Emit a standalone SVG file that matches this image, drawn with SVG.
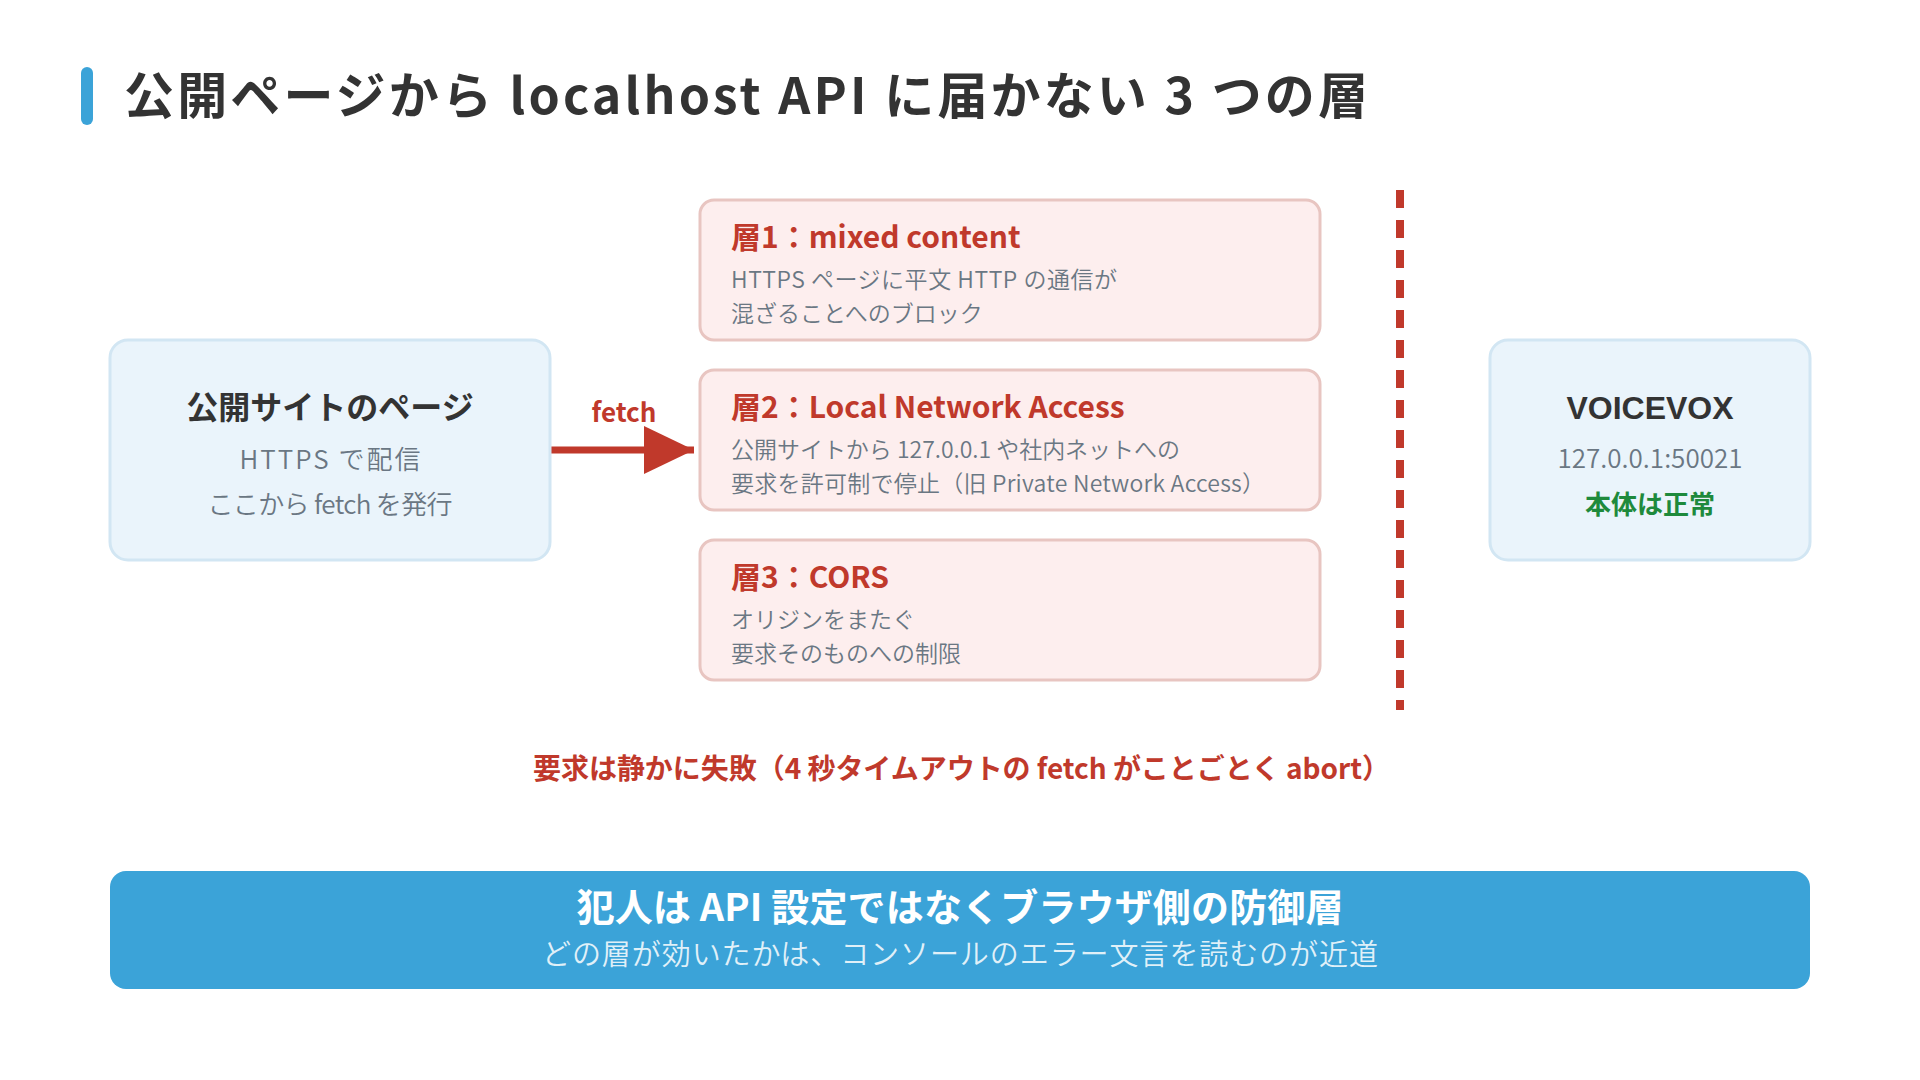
<svg xmlns="http://www.w3.org/2000/svg" width="1920" height="1080" viewBox="0 0 1920 1080">
<style>
  text { font-family: "Noto Sans CJK JP", "Noto Sans", sans-serif; }
  .title { font-size: 50px; font-weight: 700; fill: #333333; }
  .blue { fill: #eaf4fb; stroke: #d2e6f3; stroke-width: 3; }
  .pink { fill: #fdeeee; stroke: #e8c5c1; stroke-width: 3; }
  .nodeTitle { font-size: 32px; font-weight: 700; fill: #333333; text-anchor: middle; }
  .sub { font-size: 26px; font-weight: 350; fill: #6a7783; text-anchor: middle; }
  .layerTitle { font-size: 30px; font-weight: 700; fill: #c0392b; }
  .desc { font-size: 23px; font-weight: 350; fill: #6a7783; }
  .red { fill: #c0392b; }
</style>
<defs>
  <marker id="arrowHead" viewBox="0 0 50 48" refX="50" refY="24" markerWidth="50" markerHeight="48" markerUnits="userSpaceOnUse" orient="auto">
    <polygon points="0,0 50,24 0,48" fill="#c0392b"/>
  </marker>
</defs>
<rect width="1920" height="1080" fill="#ffffff"/>

<g id="title">
  <rect x="81" y="67" width="12" height="58" rx="6" fill="#3ba3d8"/>
  <text class="title" x="124" y="114" textLength="1244" lengthAdjust="spacing">公開ページから localhost API に届かない 3 つの層</text>
</g>

<g id="connectors">
  <line x1="550" y1="450" x2="694" y2="450" stroke="#c0392b" stroke-width="7" marker-end="url(#arrowHead)"/>
  <text x="624" y="422" font-size="26" font-weight="700" text-anchor="middle" class="red">fetch</text>
  <line x1="1400" y1="190" x2="1400" y2="710" stroke="#c0392b" stroke-width="8" stroke-dasharray="18 12"/>
</g>

<g id="node-page">
  <rect class="blue" x="110" y="340" width="440" height="220" rx="18"/>
  <text class="nodeTitle" x="330" y="419">公開サイトのページ</text>
  <text class="sub" x="330" y="469" textLength="181" lengthAdjust="spacing">HTTPS で配信</text>
  <text class="sub" x="330" y="514" textLength="245" lengthAdjust="spacing">ここから fetch を発行</text>
</g>

<g id="node-layer1">
  <rect class="pink" x="700" y="200" width="620" height="140" rx="14"/>
  <text class="layerTitle" x="731" y="248">層1：mixed content</text>
  <text class="desc" x="731" y="288" textLength="386" lengthAdjust="spacing">HTTPS ページに平文 HTTP の通信が</text>
  <text class="desc" x="731" y="322">混ざることへのブロック</text>
</g>

<g id="node-layer2">
  <rect class="pink" x="700" y="370" width="620" height="140" rx="14"/>
  <text class="layerTitle" x="731" y="418">層2：Local Network Access</text>
  <text class="desc" x="731" y="458" textLength="449" lengthAdjust="spacing">公開サイトから 127.0.0.1 や社内ネットへの</text>
  <text class="desc" x="731" y="492" textLength="534" lengthAdjust="spacing">要求を許可制で停止（旧 Private Network Access）</text>
</g>

<g id="node-layer3">
  <rect class="pink" x="700" y="540" width="620" height="140" rx="14"/>
  <text class="layerTitle" x="731" y="588">層3：CORS</text>
  <text class="desc" x="731" y="628">オリジンをまたぐ</text>
  <text class="desc" x="731" y="662">要求そのものへの制限</text>
</g>

<g id="node-voicevox">
  <rect class="blue" x="1490" y="340" width="320" height="220" rx="18"/>
  <text class="nodeTitle" x="1650" y="419" style="font-family: 'Liberation Sans', Arial, sans-serif;">VOICEVOX</text>
  <text class="sub" x="1650" y="468" textLength="185" lengthAdjust="spacing">127.0.0.1:50021</text>
  <text x="1650" y="514" font-size="26" font-weight="700" fill="#1e8a3c" text-anchor="middle">本体は正常</text>
</g>

<g id="note">
  <text x="533" y="779" font-size="28" font-weight="700" class="red" textLength="857" lengthAdjust="spacing">要求は静かに失敗（4 秒タイムアウトの fetch がことごとく abort）</text>
</g>

<g id="banner">
  <rect x="110" y="871" width="1700" height="118" rx="16" fill="#3ba3d8"/>
  <text x="960" y="921" font-size="38" font-weight="700" fill="#ffffff" text-anchor="middle" textLength="767" lengthAdjust="spacing">犯人は API 設定ではなくブラウザ側の防御層</text>
  <text x="960" y="965" font-size="29" font-weight="350" fill="#ffffff" fill-opacity="0.85" text-anchor="middle" textLength="836" lengthAdjust="spacing">どの層が効いたかは、コンソールのエラー文言を読むのが近道</text>
</g>
</svg>
